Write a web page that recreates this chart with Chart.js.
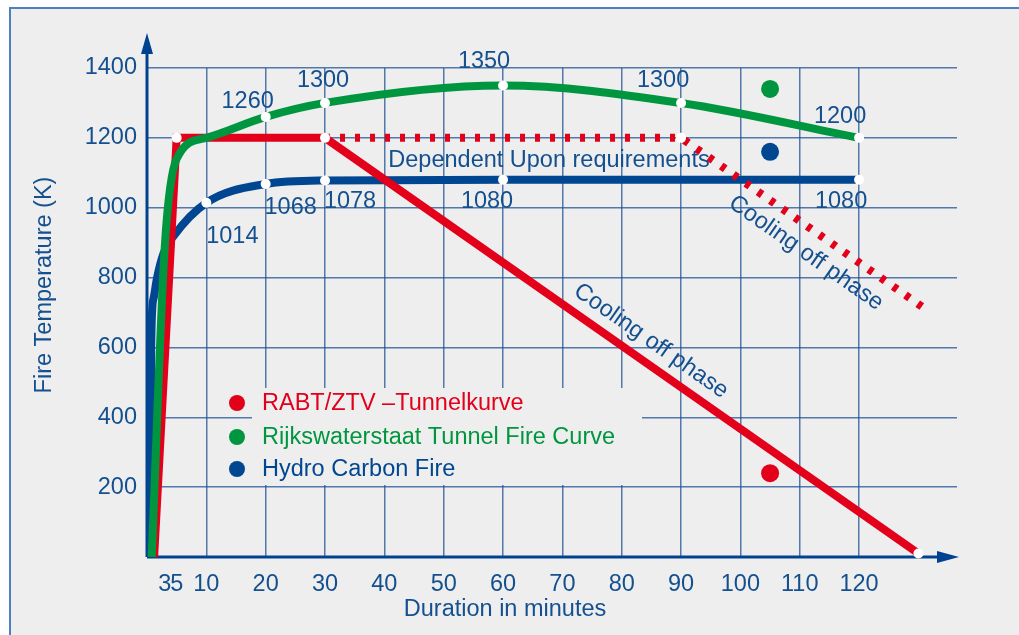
<!DOCTYPE html>
<html>
<head>
<meta charset="utf-8">
<script src="https://cdn.jsdelivr.net/npm/chart.js@4"></script>
<style>
  body { margin: 0; background: #fff; }
  #wrap { width: 1019px; height: 635px; }
</style>
</head>
<body>
<div id="wrap"><canvas id="fireChart" width="1019" height="635"></canvas></div>
<script>
// data
const xTicks = [3, 5, 10, 20, 30, 40, 50, 60, 70, 80, 90, 100, 110, 120];
const yTicks = [200, 400, 600, 800, 1000, 1200, 1400];

const rabtTime = [1.2, 5, 30, 130];
const rabtTemp = [0, 1200, 1200, 10];
const rabtLongTime = [30, 90, 131];
const rabtLongTemp = [1200, 1200, 712];

const rwsTime = [0.8, 3, 5, 10, 20, 30, 60, 90, 120];
const rwsTemp = [0, 890, 1140, 1200, 1260, 1300, 1350, 1300, 1200];

const hcTime = [0.6, 0.7, 1.1, 1.7, 2.8, 4.4, 10, 20, 30, 60, 120];
const hcTemp = [0, 600, 740, 800, 870, 917, 1014, 1068, 1078, 1080, 1080];

const markerTime = [105, 105, 105];
const markerTemp = [1340, 1160, 240];

const legendNames = ['RABT/ZTV \u2013Tunnelkurve', 'Rijkswaterstaat Tunnel Fire Curve', 'Hydro Carbon Fire'];

const RED = '#e2001a';
const GREEN = '#00963f';
const BLUE = '#004690';
const TEXT = '#14508f';
const GRID = 'rgba(30, 80, 150, 0.75)';
const FONT = '"Liberation Sans", Arial, sans-serif';
const FS = 23.5;

function pts(xs, ys) {
  return xs.map((x, i) => ({ x: x, y: ys[i] }));
}

const decor = {
  id: 'decor',
  beforeDraw(chart) {
    const c = chart.ctx;
    c.save();
    c.fillStyle = '#fff';
    c.fillRect(0, 0, chart.width, chart.height);
    c.fillStyle = '#eeeeee';
    c.fillRect(10, 8, chart.width - 10, chart.height - 8);
    c.strokeStyle = '#4f7fbf';
    c.lineWidth = 2;
    c.beginPath();
    c.moveTo(10, chart.height);
    c.lineTo(10, 8);
    c.lineTo(chart.width, 8);
    c.stroke();
    c.restore();
  },
  beforeDatasetsDraw(chart) {
    const c = chart.ctx;
    const a = chart.chartArea;
    c.save();
    // legend box hides the grid
    c.fillStyle = '#eeeeee';
    c.fillRect(252, 388, 390, 97);
    const cols = [RED, GREEN, BLUE];
    const rows = [403, 437, 469];
    c.font = FS + 'px ' + FONT;
    c.textBaseline = 'middle';
    legendNames.forEach((n, i) => {
      c.fillStyle = cols[i];
      c.beginPath();
      c.arc(237, rows[i], 8, 0, Math.PI * 2);
      c.fill();
      c.fillText(n, 262, rows[i] + 1);
    });

    // axes with arrows
    c.strokeStyle = '#00428f';
    c.fillStyle = '#00428f';
    c.lineWidth = 3;
    c.beginPath();
    c.moveTo(a.left, a.bottom);
    c.lineTo(a.left, 50);
    c.moveTo(a.left, a.bottom);
    c.lineTo(940, a.bottom);
    c.stroke();
    c.beginPath();
    c.moveTo(a.left, 33);
    c.lineTo(a.left - 6, 54);
    c.lineTo(a.left + 6, 54);
    c.closePath();
    c.fill();
    c.beginPath();
    c.moveTo(959, a.bottom);
    c.lineTo(937, a.bottom - 6);
    c.lineTo(937, a.bottom + 6);
    c.closePath();
    c.fill();

    // axis titles
    c.fillStyle = TEXT;
    c.font = FS + 'px ' + FONT;
    c.textAlign = 'center';
    c.textBaseline = 'middle';
    c.fillText('Duration in minutes', 505, 610);
    c.translate(45, 285);
    c.rotate(-Math.PI / 2);
    c.fillText('Fire Temperature (K)', 0, 0);
    c.restore();
  },
  afterDatasetsDraw(chart) {
    const c = chart.ctx;
    const xs = chart.scales.x;
    const ys = chart.scales.y;
    c.save();
    c.fillStyle = TEXT;
    c.font = FS + 'px ' + FONT;
    c.textAlign = 'center';
    c.textBaseline = 'middle';

    const label = (t, v, dx, dy) => {
      c.fillText(String(v), xs.getPixelForValue(t) + dx, ys.getPixelForValue(v) + dy);
    };
    // green values
    const gOff = { 20: [-18, -15], 30: [-2, -22], 60: [-19, -24], 90: [-18, -22], 120: [-19, -21] };
    rwsTime.forEach((t, i) => { if (gOff[t]) label(t, rwsTemp[i], gOff[t][0], gOff[t][1]); });
    // blue values
    const bOff = { 10: [26, 34], 20: [25, 24], 30: [25, 21], 60: [-16, 22], 120: [-18, 22] };
    hcTime.forEach((t, i) => { if (bOff[t]) label(t, hcTemp[i], bOff[t][0], bOff[t][1]); });

    c.fillText('Dependent Upon requirements', 549, 161);

    // cooling texts follow the red slopes
    const p1 = [xs.getPixelForValue(rabtTime[2]), ys.getPixelForValue(rabtTemp[2])];
    const p2 = [xs.getPixelForValue(rabtTime[3]), ys.getPixelForValue(rabtTemp[3])];
    const ang = Math.atan2(p2[1] - p1[1], p2[0] - p1[0]);
    c.save();
    c.translate(651, 341);
    c.rotate(ang);
    c.fillText('Cooling off phase', 0, 0);
    c.restore();

    const q1 = [xs.getPixelForValue(rabtLongTime[1]), ys.getPixelForValue(rabtLongTemp[1])];
    const q2 = [xs.getPixelForValue(rabtLongTime[2]), ys.getPixelForValue(rabtLongTemp[2])];
    const ang2 = Math.atan2(q2[1] - q1[1], q2[0] - q1[0]);
    c.save();
    c.translate(806, 253);
    c.rotate(ang2);
    c.fillText('Cooling off phase', 0, 0);
    c.restore();
    c.restore();
  }
};

const dot = (idx) => (ctx) => (idx.includes(ctx.dataIndex) ? 5 : 0);

new Chart(document.getElementById('fireChart'), {
  type: 'line',
  data: {
    datasets: [
      {
        label: legendNames[1],
        data: pts(rwsTime, rwsTemp),
        borderColor: GREEN,
        borderWidth: 8,
        cubicInterpolationMode: 'monotone',
        pointRadius: dot([4, 5, 6, 7, 8]),
        pointBackgroundColor: '#fff',
        pointBorderWidth: 0,
        clip: false,
      },
      {
        label: legendNames[0],
        data: pts(rabtTime, rabtTemp),
        borderColor: RED,
        borderWidth: 8,
        borderJoinStyle: 'miter',
        pointRadius: dot([1, 2, 3]),
        pointBackgroundColor: '#fff',
        pointBorderWidth: 0,
        clip: false,
      },
      {
        label: legendNames[0] + ' (long)',
        data: pts(rabtLongTime, rabtLongTemp),
        borderColor: RED,
        borderWidth: 8,
        borderDash: [5, 10],
        pointRadius: dot([1]),
        pointBackgroundColor: '#fff',
        pointBorderWidth: 0,
        clip: false,
      },
      {
        label: legendNames[2],
        data: pts(hcTime, hcTemp),
        borderColor: BLUE,
        borderWidth: 8,
        cubicInterpolationMode: 'monotone',
        pointRadius: dot([6, 7, 8, 9, 10]),
        pointBackgroundColor: '#fff',
        pointBorderWidth: 0,
        clip: false,
      },
      {
        label: 'markers',
        data: pts(markerTime, markerTemp),
        showLine: false,
        pointRadius: 9,
        pointBorderWidth: 0,
        pointBackgroundColor: [GREEN, BLUE, RED],
      },
    ],
  },
  options: {
    responsive: false,
    devicePixelRatio: 1,
    animation: false,
    events: [],
    layout: { padding: { top: 68, right: 62, left: 0, bottom: 0 } },
    plugins: { legend: { display: false }, tooltip: { enabled: false } },
    scales: {
      x: {
        type: 'linear',
        min: 0,
        max: 136.5,
        afterBuildTicks: (s) => { s.ticks = xTicks.map((v) => ({ value: v })); },
        afterFit: (s) => { s.height = 78; },
        border: { display: false },
        grid: {
          drawTicks: false,
          lineWidth: 1.5,
          color: (ctx) => (ctx.tick && ctx.tick.value < 10 ? 'transparent' : GRID),
        },
        ticks: {
          autoSkip: false,
          maxRotation: 0,
          padding: 13,
          color: TEXT,
          font: { family: FONT, size: FS },
          callback: (v) => String(v),
        },
      },
      y: {
        min: 0,
        max: 1400,
        afterBuildTicks: (s) => { s.ticks = yTicks.map((v) => ({ value: v })); },
        afterFit: (s) => { s.width = 147; },
        border: { display: false },
        grid: { drawTicks: false, lineWidth: 1.5, color: GRID },
        ticks: {
          padding: 10,
          color: TEXT,
          font: { family: FONT, size: FS },
          callback: (v) => String(v),
        },
      },
    },
  },
  plugins: [decor],
});
</script>
</body>
</html>
